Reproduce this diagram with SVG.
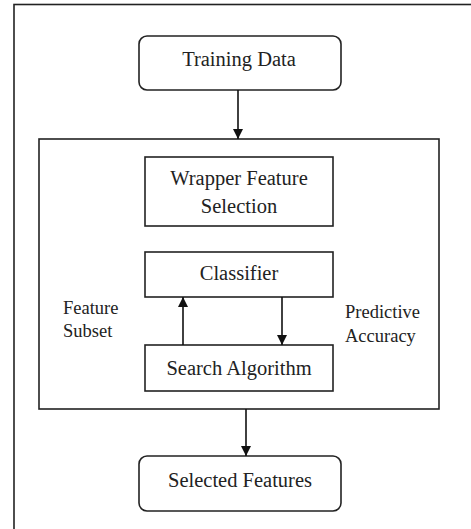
<svg xmlns="http://www.w3.org/2000/svg" width="471" height="529" viewBox="0 0 471 529">
<style>
.box{fill:#fff;stroke:#222;stroke-width:1.6}
text{font-family:"Liberation Serif","Times New Roman","DejaVu Serif",serif;fill:#222}
.t{font-size:20.5px;text-anchor:middle}
.l{font-size:18.5px}
.c{stroke:#111;stroke-width:1.6;fill:none}
</style>
<defs>
<marker id="ah" markerWidth="10" markerHeight="10" refX="10" refY="5" orient="auto" markerUnits="userSpaceOnUse" viewBox="0 0 10 10">
<path d="M0,0 L10,5 L0,10 Z" fill="#111"/>
</marker>
</defs>
<rect width="471" height="529" fill="#fff"/>
<rect x="14" y="4.5" width="470" height="540" fill="none" stroke="#222" stroke-width="1.6"/>
<g id="wrapper-container">
<rect class="box" x="39" y="139" width="400" height="270"/>
</g>
<g id="training-data">
<rect class="box" x="139" y="36" width="202" height="54" rx="8"/>
<text class="t" x="239" y="66">Training Data</text>
</g>
<g id="wrapper-feature-selection">
<rect class="box" x="145" y="157" width="188" height="69"/>
<text class="t" x="239" y="185">Wrapper Feature</text>
<text class="t" x="239" y="213">Selection</text>
</g>
<g id="classifier">
<rect class="box" x="145" y="252" width="188" height="45"/>
<text class="t" x="239" y="280">Classifier</text>
</g>
<g id="search-algorithm">
<rect class="box" x="145" y="345" width="188" height="46"/>
<text class="t" x="239" y="375">Search Algorithm</text>
</g>
<g id="selected-features">
<rect class="box" x="139" y="456" width="202" height="55" rx="8"/>
<text class="t" x="240" y="487">Selected Features</text>
</g>
<g id="labels">
<text class="l" x="63" y="314">Feature</text>
<text class="l" x="63" y="337">Subset</text>
<text class="l" x="345" y="318">Predictive</text>
<text class="l" x="345" y="342">Accuracy</text>
</g>
<g id="connectors">
<line class="c" x1="238" y1="90" x2="238" y2="139" marker-end="url(#ah)"/>
<line class="c" x1="183" y1="345" x2="183" y2="297" marker-end="url(#ah)"/>
<line class="c" x1="282" y1="297" x2="282" y2="345" marker-end="url(#ah)"/>
<line class="c" x1="246" y1="409" x2="246" y2="456" marker-end="url(#ah)"/>
</g>
</svg>
